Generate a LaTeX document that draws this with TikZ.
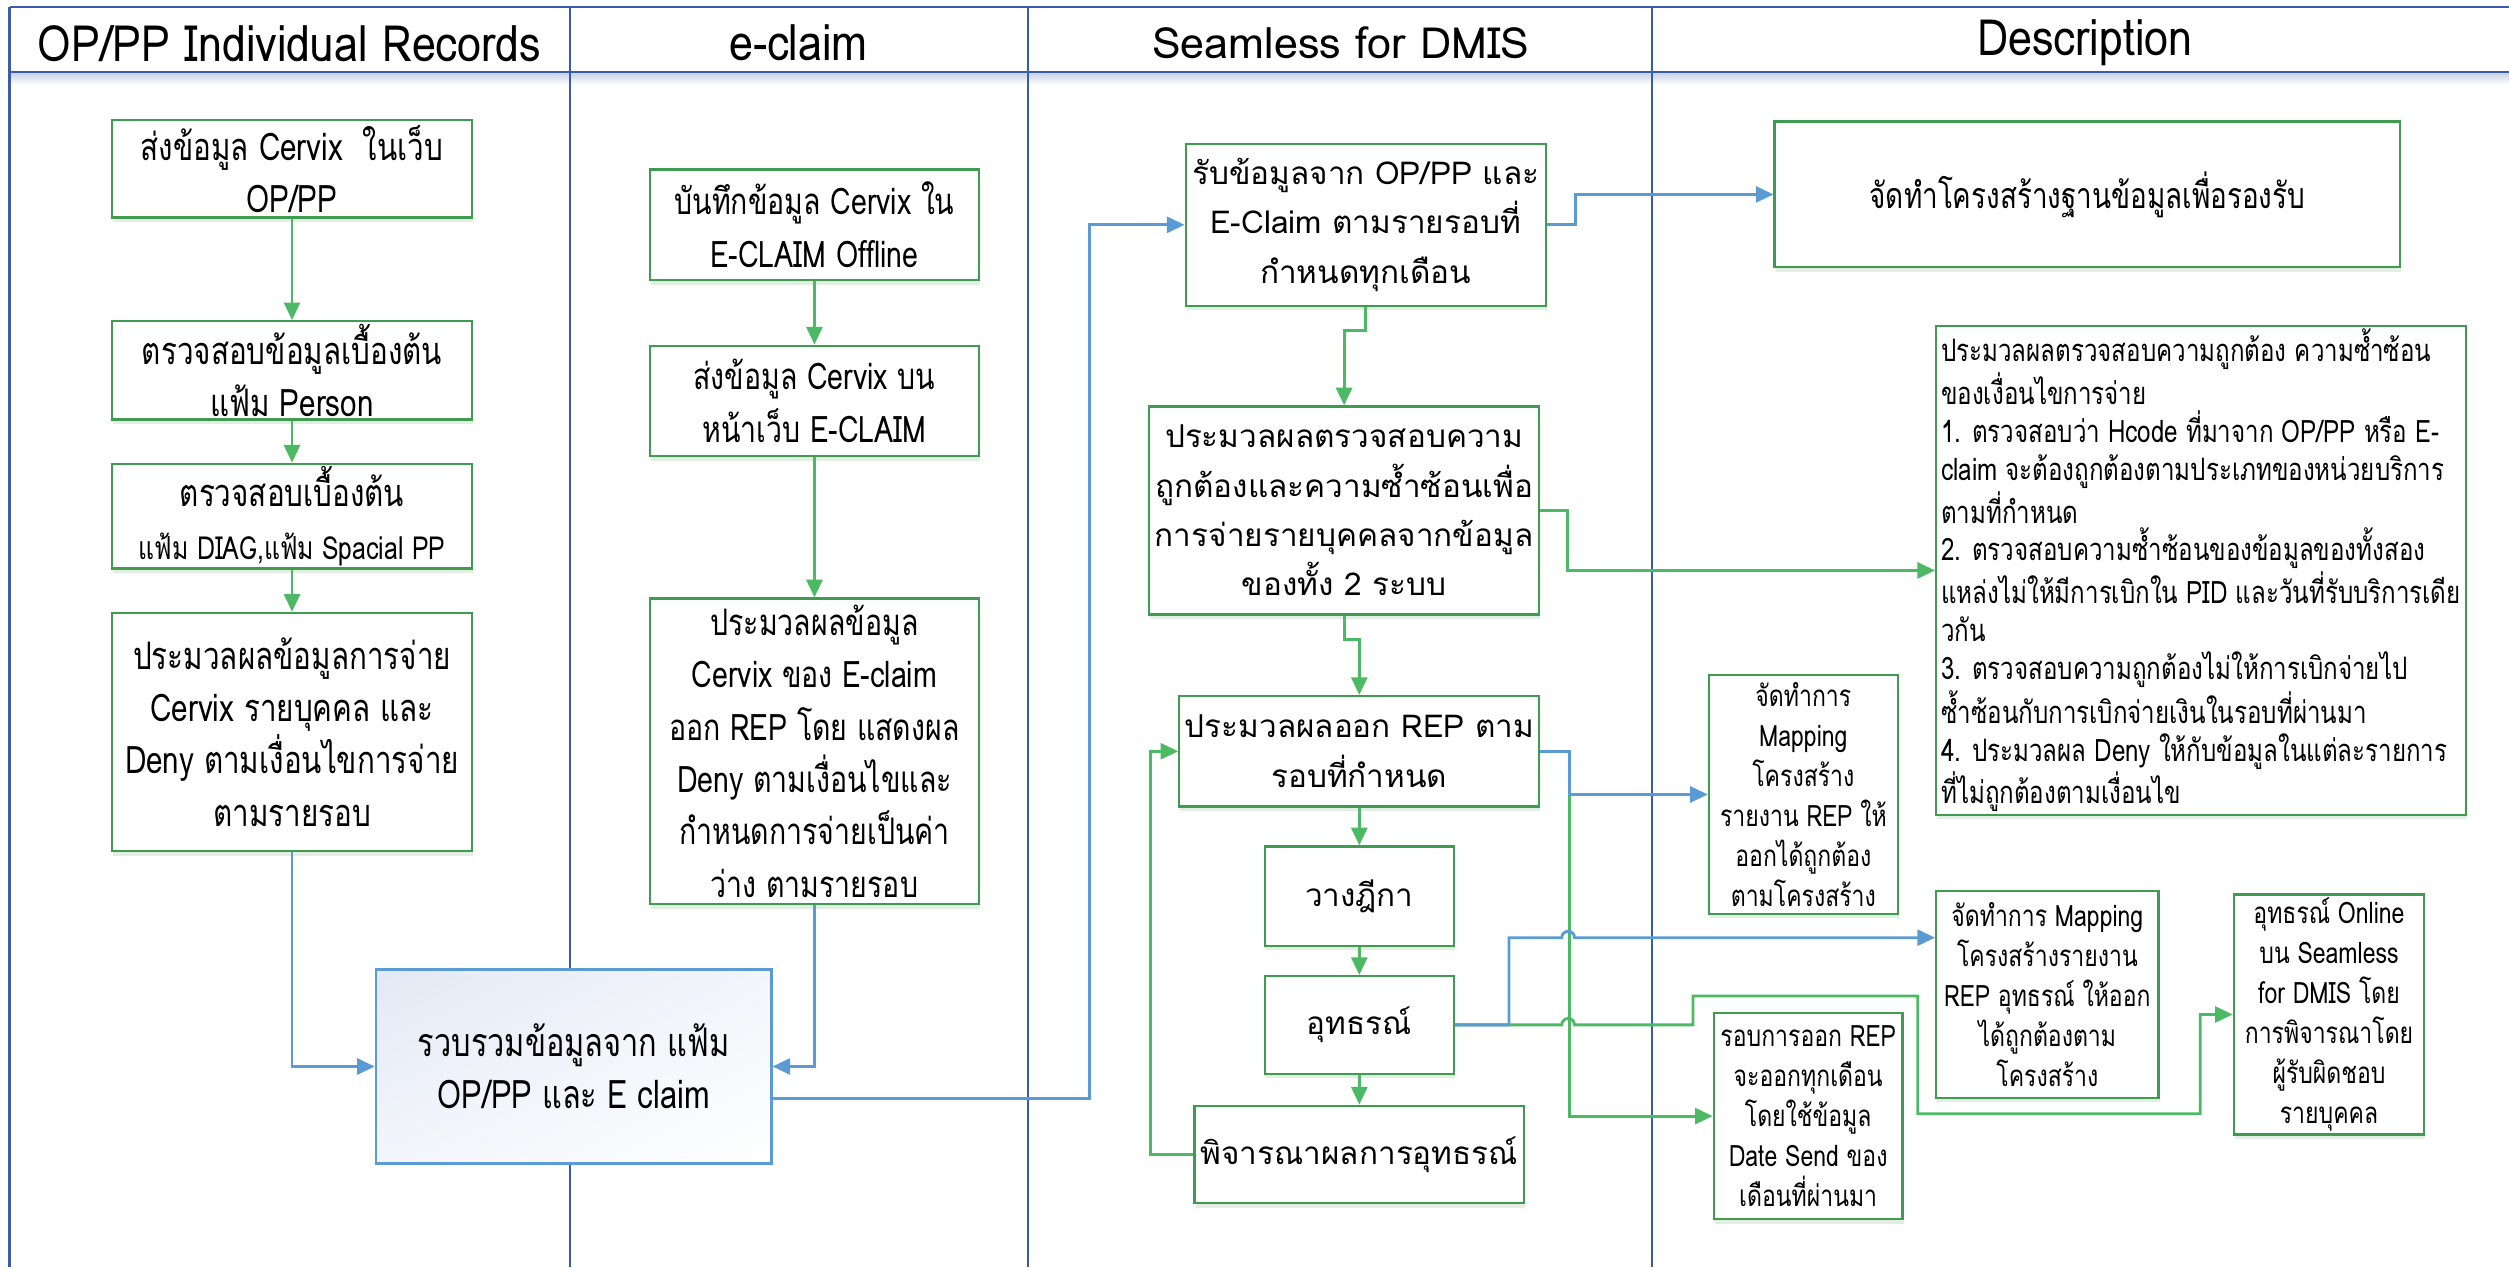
\documentclass[tikz,border=0pt]{standalone}
\usepackage{fontspec}
\setmainfont{Loma}[Script=Thai]
\newfontfamily\narrowfont{Loma}[Script=Thai,FakeStretch=0.78]
\newfontfamily\headfont{Loma}[Script=Thai,FakeStretch=0.86]
\usetikzlibrary{arrows.meta,shadows,shadings}

\definecolor{lanec}{HTML}{3B5CA8}
\definecolor{gedge}{HTML}{3E9B4F}
\definecolor{garrow}{HTML}{4CB964}
\definecolor{barrow}{HTML}{5B9BD5}
\definecolor{mfill}{HTML}{E3E9F5}
\newcommand{\pxu}{0.2mm}

\tikzset{
	lane/.style={draw=lanec,line width=0.8pt},
	bsize/.style 2 args={minimum width=#1*\pxu,minimum height=#2*\pxu},
	gbox/.style={draw=gedge,line width=0.8pt,fill=white,align=center,inner sep=1pt,
		drop shadow={shadow xshift=0.4pt,shadow yshift=-1.6pt,fill=green!40!black!25,opacity=0.45}},
	nbox/.style={gbox,font=\narrowfont\fontsize{13.5}{18.6}\selectfont},
	ebox/.style={gbox,font=\narrowfont\fontsize{13}{18.6}\selectfont},
	wbox/.style={gbox,font=\fontsize{11.2}{17.6}\selectfont},
	sbox/.style={gbox,font=\narrowfont\fontsize{10.5}{14.2}\selectfont},
	mbox/.style={draw=barrow,line width=0.9pt,align=center,
		upper left=mfill,upper right=mfill!45!white,lower left=mfill!45!white,lower right=white,
		font=\narrowfont\fontsize{14}{18.6}\selectfont},
	gline/.style={draw=garrow,line width=1pt},
	bline/.style={draw=barrow,line width=1pt},
	garr/.style={gline,-{Triangle[length=2.2mm,width=2mm]}},
	barr/.style={bline,-{Triangle[length=2.2mm,width=2mm]}},
	lanehead/.style={font=\headfont\fontsize{17.8}{20}\selectfont}
}

\begin{document}
\begin{tikzpicture}[x=0.2mm,y=-0.2mm]
	\useasboundingbox (0,0) rectangle (1568,792);
	% lanes
	\shade[top color=lanec!30,bottom color=white] (6,45) rectangle (1568,53);
	\draw[lane] (6,4.5)--(1568,4.5);
	\draw[lane] (6,45)--(1568,45);
	\foreach \x in {6,356,642.6,1032.5}
		\draw[lane] (\x,4.5)--(\x,792);
	\node[lanehead] (hopp) at (181,27) {OP/PP Individual Records};
	\node[lanehead] (hecl) at (499,27) {e-claim};
	\node[font=\fontsize{15.3}{17}\selectfont] (hsea) at (838,27) {Seamless for DMIS};
	\node[lanehead] (hdes) at (1303,27) {Description};

	% OP/PP lane
	\node[nbox,bsize={225}{61}] (opA) at (182.5,105.5) {ส่งข้อมูล Cervix\ \ ในเว็บ\\OP/PP};
	\node[nbox,bsize={225}{61}] (opB) at (182.5,231.5) {ตรวจสอบข้อมูลเบื้องต้น\\แฟ้ม Person};
	\node[nbox,bsize={225}{61}] (opC) at (182.5,322.5) {ตรวจสอบเบื้องต้น\\{\fontsize{11.3}{13}\selectfont แฟ้ม DIAG,แฟ้ม Spacial PP}};
	\node[nbox,bsize={225}{149}] (opD) at (182.5,457.5) {ประมวลผลข้อมูลการจ่าย\\Cervix รายบุคคล และ\\Deny ตามเงื่อนไขการจ่าย\\ตามรายรอบ};

	% e-claim lane
	\node[ebox,bsize={206}{69}] (ecA) at (509,140.5) {บันทึกข้อมูล Cervix ใน\\E-CLAIM Offline};
	\node[ebox,bsize={206}{69}] (ecB) at (509,250.5) {ส่งข้อมูล Cervix บน\\หน้าเว็บ E-CLAIM};
	\node[ebox,bsize={206}{191}] (ecC) at (509,469.5) {ประมวลผลข้อมูล\\Cervix ของ E-claim\\ออก REP โดย แสดงผล\\Deny ตามเงื่อนไขและ\\กำหนดการจ่ายเป็นค่า\\ว่าง ตามรายรอบ};
	\node[mbox,bsize={247}{121}] (merge) at (358.5,666.5) {รวบรวมข้อมูลจาก แฟ้ม\\OP/PP และ E claim};

	% Seamless lane
	\node[wbox,bsize={225}{101}] (smA) at (853.5,140.5) {รับข้อมูลจาก OP/PP และ\\E-Claim ตามรายรอบที่\\กำหนดทุกเดือน};
	\node[wbox,bsize={244}{130}] (smB) at (840,319) {ประมวลผลตรวจสอบความ\\ถูกต้องและความซ้ำซ้อนเพื่อ\\การจ่ายรายบุคคลจากข้อมูล\\ของทั้ง 2 ระบบ};
	\node[wbox,bsize={225}{69}] (smC) at (849.5,469.5) {ประมวลผลออก REP ตาม\\รอบที่กำหนด};
	\node[wbox,bsize={118}{62}] (smD) at (849.5,560) {วางฎีกา};
	\node[wbox,bsize={118}{61}] (smE) at (849.5,640.5) {อุทธรณ์};
	\node[wbox,bsize={206}{61}] (smF) at (849.5,721.5) {พิจารณาผลการอุทธรณ์};

	% Description lane
	\node[nbox,bsize={391}{91},font=\narrowfont\fontsize{12.7}{18}\selectfont] (dsA) at (1304.5,121.5) {จัดทำโครงสร้างฐานข้อมูลเพื่อรองรับ};
	\node[sbox,bsize={331}{295},align=left,font=\narrowfont\fontsize{11}{13.5}\selectfont] (dsB) at (1375.5,356.5) {ประมวลผลตรวจสอบความถูกต้อง ความซ้ำซ้อน\\ของเงื่อนไขการจ่าย\\1. ตรวจสอบว่า Hcode ที่มาจาก OP/PP หรือ E-\\claim จะต้องถูกต้องตามประเภทของหน่วยบริการ\\ตามที่กำหนด\\2. ตรวจสอบความซ้ำซ้อนของข้อมูลของทั้งสอง\\แหล่งไม่ให้มีการเบิกใน PID และวันที่รับบริการเดีย\\วกัน\\3. ตรวจสอบความถูกต้องไม่ให้การเบิกจ่ายไป\\ซ้ำซ้อนกับการเบิกจ่ายเงินในรอบที่ผ่านมา\\4. ประมวลผล Deny ให้กับข้อมูลในแต่ละรายการ\\ที่ไม่ถูกต้องตามเงื่อนไข};
	\node[sbox,bsize={118}{149}] (dsC) at (1127,496.5) {จัดทำการ\\Mapping\\โครงสร้าง\\รายงาน REP ให้\\ออกได้ถูกต้อง\\ตามโครงสร้าง};
	\node[sbox,bsize={139}{129}] (dsD) at (1279.5,621.5) {จัดทำการ Mapping\\โครงสร้างรายงาน\\REP อุทธรณ์ ให้ออก\\ได้ถูกต้องตาม\\โครงสร้าง};
	\node[sbox,bsize={118}{129}] (dsE) at (1130,697.5) {รอบการออก REP\\จะออกทุกเดือน\\โดยใช้ข้อมูล\\Date Send ของ\\เดือนที่ผ่านมา};
	\node[sbox,bsize={119}{150}] (dsF) at (1455.5,634) {อุทธรณ์ Online\\บน Seamless\\for DMIS โดย\\การพิจารณาโดย\\ผู้รับผิดชอบ\\รายบุคคล};

	% green flow
	\draw[garr] (opA)--(opB);
	\draw[garr] (opB)--(opC);
	\draw[garr] (opC)--(opD);
	\draw[garr] (ecA)--(ecB);
	\draw[garr] (ecB)--(ecC);
	\draw[garr] (smA.south)--++(0,15)-|(smB.north);
	\draw[garr] (smB.south)--++(0,15)-|(smC.north);
	\draw[garr] (smC)--(smD);
	\draw[garr] (smD)--(smE);
	\draw[garr] (smE)--(smF);
	\draw[garr] (smF.west)--++(-27,0)|-(smC.west);
	\draw[garr] (smB.east)--++(17,0)|-(dsB.west);
	\draw[garr] (smC.east)--++(18,0)|-(dsE.west);
	\draw[garr] (smE.east)--(976,640.5) arc[start angle=180,end angle=360,radius=4]
		--(1058,640.5)--(1058,622.5)--(1198.5,622.5)--(1198.5,696)--(1375,696)|-(dsF.west);

	% blue flow
	\draw[barr] (opD.south)|-(merge.west);
	\draw[barr] (ecC.south)|-(merge.east);
	\draw[barr] ([yshift=-20*\pxu]merge.east)-|(681,140.5)--(smA.west);
	\draw[barr] (smA.east)--++(18,0)|-(dsA.west);
	\draw[barr] (smC.east)--++(18,0)|-(dsC.west);
	\draw[barr] (smE.east)--(943,640.5)|-(976,586) arc[start angle=180,end angle=360,radius=4]
		--([yshift=35.5*\pxu]dsD.west);
\end{tikzpicture}
\end{document}
